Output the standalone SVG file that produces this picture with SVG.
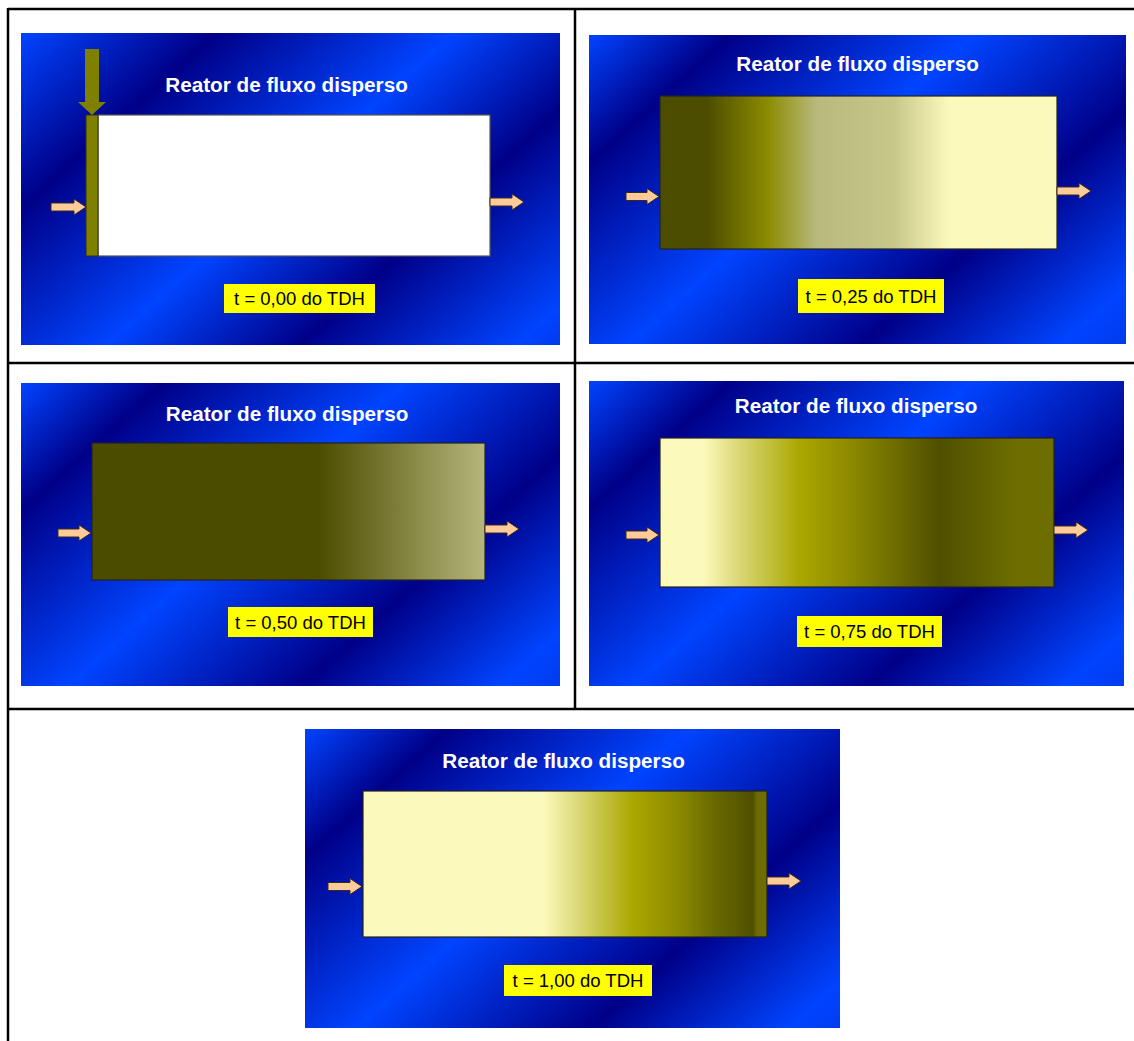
<svg xmlns="http://www.w3.org/2000/svg" width="1134" height="1041" viewBox="0 0 1134 1041">
<style>
.title{font-family:"Liberation Sans",Arial,sans-serif;font-weight:bold;font-size:20.7px;fill:#ffffff;text-anchor:middle}
.lab{font-family:"Liberation Sans",Arial,sans-serif;font-size:18.5px;fill:#000000;text-anchor:middle}
.labbox{fill:#ffff00}
.arrow{fill:#ffcc99;stroke:#3a2a1a;stroke-width:1}
.box{stroke:#222222;stroke-width:1.2}
.tbl{stroke:#000000;stroke-width:2.5;fill:none}
</style>
<defs>
<linearGradient id="bgA" gradientUnits="userSpaceOnUse">
<stop offset="0" stop-color="#0044ff"/><stop offset="0.217" stop-color="#000088"/><stop offset="0.483" stop-color="#0044ff"/><stop offset="0.697" stop-color="#000088"/><stop offset="0.94" stop-color="#0044ff"/><stop offset="1" stop-color="#0038e8"/>
</linearGradient>
<linearGradient id="bgB" gradientUnits="userSpaceOnUse">
<stop offset="0" stop-color="#0044ff"/><stop offset="0.158" stop-color="#000088"/><stop offset="0.428" stop-color="#0044ff"/><stop offset="0.69" stop-color="#000088"/><stop offset="0.91" stop-color="#0044ff"/><stop offset="1" stop-color="#0038e8"/>
</linearGradient>
<linearGradient id="bg1" href="#bgA" x1="21" y1="33" x2="422" y2="479"/>
<linearGradient id="bg2" href="#bgB" x1="589" y1="35" x2="990" y2="481"/>
<linearGradient id="bg3" href="#bgB" x1="21" y1="383" x2="422" y2="829"/>
<linearGradient id="bg4" href="#bgB" x1="589" y1="381" x2="990" y2="827"/>
<linearGradient id="bg5" href="#bgB" x1="305" y1="729" x2="706" y2="1175"/>
<linearGradient id="r2" x1="0" y1="0" x2="1" y2="0">
<stop offset="0" stop-color="#4d4d00"/><stop offset="0.12" stop-color="#4d4d00"/><stop offset="0.27" stop-color="#8b8b00"/><stop offset="0.395" stop-color="#b9b97d"/><stop offset="0.587" stop-color="#c7c78a"/><stop offset="0.73" stop-color="#fcfabb"/><stop offset="1" stop-color="#fcfabb"/>
</linearGradient>
<linearGradient id="r3" x1="0" y1="0" x2="1" y2="0">
<stop offset="0" stop-color="#4c4c00"/><stop offset="0.575" stop-color="#4c4c00"/><stop offset="1" stop-color="#b6b67c"/>
</linearGradient>
<linearGradient id="r4" x1="0" y1="0" x2="1" y2="0">
<stop offset="0" stop-color="#fcfabb"/><stop offset="0.11" stop-color="#fcfabb"/><stop offset="0.195" stop-color="#dcd97a"/><stop offset="0.355" stop-color="#aaa700"/><stop offset="0.49" stop-color="#8b8800"/><stop offset="0.71" stop-color="#4f4f00"/><stop offset="0.9" stop-color="#6d6d00"/><stop offset="1" stop-color="#6d6d00"/>
</linearGradient>
<linearGradient id="r5" x1="0" y1="0" x2="1" y2="0">
<stop offset="0" stop-color="#fcfabb"/><stop offset="0.446" stop-color="#fcfabb"/><stop offset="0.53" stop-color="#dcd97a"/><stop offset="0.668" stop-color="#aaa700"/><stop offset="0.78" stop-color="#8c8a00"/><stop offset="0.86" stop-color="#6c6c00"/><stop offset="0.965" stop-color="#4f4f00"/><stop offset="0.975" stop-color="#6b6b00"/><stop offset="1" stop-color="#6d6d00"/>
</linearGradient>
</defs>
<rect x="0" y="0" width="1134" height="1041" fill="#ffffff"/>
<g id="table">
<line class="tbl" x1="8" y1="9" x2="1134" y2="9"/>
<line class="tbl" x1="8" y1="8" x2="8" y2="1041"/>
<line class="tbl" x1="575" y1="9" x2="575" y2="709"/>
<line class="tbl" x1="8" y1="363" x2="1134" y2="363"/>
<line class="tbl" x1="8" y1="709" x2="1134" y2="709"/>
</g>
<g id="panel1">
<rect x="21" y="33" width="539" height="312" fill="url(#bg1)"/>
<text class="title" x="286.5" y="92">Reator de fluxo disperso</text>
<rect x="98" y="115" width="392" height="141" fill="#ffffff" stroke="#555555" stroke-width="1.2"/>
<rect x="86" y="115" width="12" height="141" fill="#7f7f00" stroke="#333300" stroke-width="1"/>
<path d="M85,49 H99 V102 H106 L92,115 L78,102 H85 Z" fill="#7f7f00"/>
<path class="arrow" d="M51,203 H74 V199 L86,207 L74,215 V211 H51 Z"/>
<path class="arrow" d="M490,198 H512 V194 L524,202 L512,210 V206 H490 Z"/>
<rect class="labbox" x="224" y="284" width="151" height="29"/>
<text class="lab" x="299.5" y="305">t = 0,00 do TDH</text>
</g>
<g id="panel2">
<rect x="589" y="35" width="537" height="309" fill="url(#bg2)"/>
<text class="title" x="857.5" y="71">Reator de fluxo disperso</text>
<rect class="box" x="660" y="96" width="397" height="153" fill="url(#r2)"/>
<path class="arrow" d="M626,192.5 H647 V188.5 L659,196.5 L647,204.5 V200.5 H626 Z"/>
<path class="arrow" d="M1057,187 H1079 V183 L1091,191 L1079,199 V195 H1057 Z"/>
<rect class="labbox" x="798" y="279" width="146" height="34"/>
<text class="lab" x="871" y="303">t = 0,25 do TDH</text>
</g>
<g id="panel3">
<rect x="21" y="383" width="539" height="303" fill="url(#bg3)"/>
<text class="title" x="287" y="421">Reator de fluxo disperso</text>
<rect class="box" x="92" y="443" width="393" height="137" fill="url(#r3)"/>
<path class="arrow" d="M58,529 H79 V525 L91,533 L79,541 V537 H58 Z"/>
<path class="arrow" d="M485,525 H507 V521 L519,529 L507,537 V533 H485 Z"/>
<rect class="labbox" x="228" y="607" width="145" height="30"/>
<text class="lab" x="300.5" y="628.5">t = 0,50 do TDH</text>
</g>
<g id="panel4">
<rect x="589" y="381" width="535" height="305" fill="url(#bg4)"/>
<text class="title" x="856" y="413">Reator de fluxo disperso</text>
<rect class="box" x="660" y="438" width="394" height="149" fill="url(#r4)"/>
<path class="arrow" d="M626,531 H647 V527 L659,535 L647,543 V539 H626 Z"/>
<path class="arrow" d="M1054,526 H1076 V522 L1088,530 L1076,538 V534 H1054 Z"/>
<rect class="labbox" x="797" y="616" width="145" height="31"/>
<text class="lab" x="869.5" y="638">t = 0,75 do TDH</text>
</g>
<g id="panel5">
<rect x="305" y="729" width="535" height="299" fill="url(#bg5)"/>
<text class="title" x="563.5" y="768">Reator de fluxo disperso</text>
<rect class="box" x="363" y="791" width="404" height="146" fill="url(#r5)"/>
<path class="arrow" d="M328,882.5 H350 V878.5 L362,886.5 L350,894.5 V890.5 H328 Z"/>
<path class="arrow" d="M767,877 H789 V873 L801,881 L789,889 V885 H767 Z"/>
<rect class="labbox" x="504" y="965" width="148" height="31"/>
<text class="lab" x="578" y="987">t = 1,00 do TDH</text>
</g>
</svg>
